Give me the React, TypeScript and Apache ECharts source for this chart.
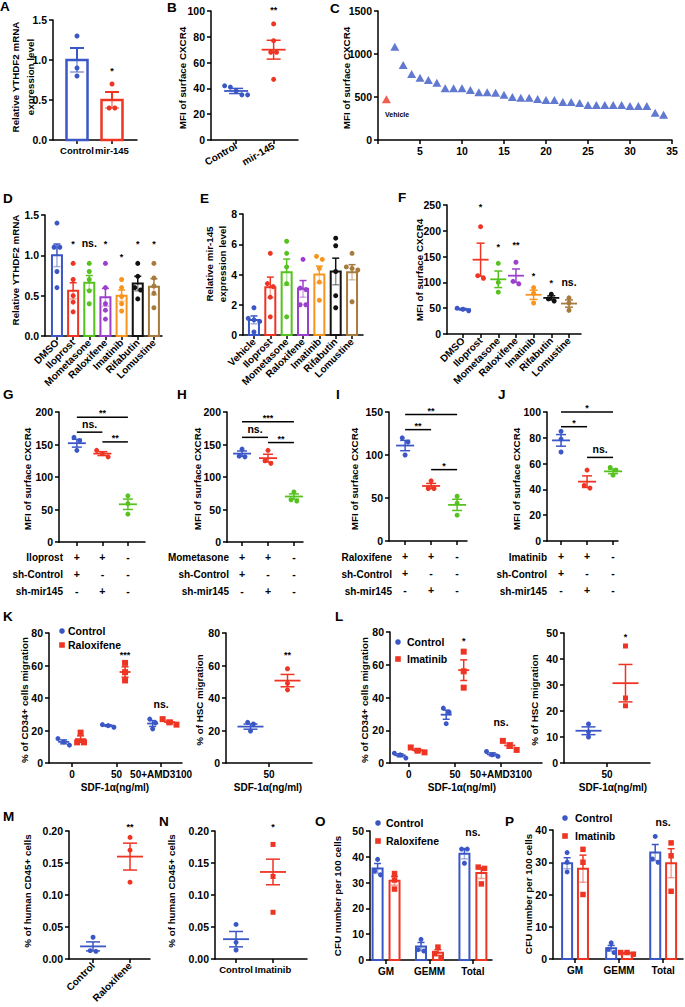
import React, { useEffect, useRef } from "react";
import * as echarts from "echarts";

const FONT = "'Liberation Sans', Arial, Helvetica, sans-serif";
const BLUE = "#3B57C6";
const RED = "#EE3524";
const GREEN = "#55C21E";
const PURPLE = "#9C40CC";
const ORANGE = "#F7951F";
const BLACK = "#111111";
const BROWN = "#A67B3D";
const DRUG_COLORS = [BLUE, RED, GREEN, PURPLE, ORANGE, BLACK, BROWN];
const TRIO = [BLUE, RED, GREEN];

// ---------- A ----------
const aCats = ["Control", "mir-145"];
const aPoints = [[1.3, 0.9, 0.8], [0.7, 0.4, 0.4]];
const aMean = [1.0, 0.5];
const aSem = [0.15, 0.1];
// ---------- B ----------
const bCats = ["Control", "mir-145"];
const bPoints = [[42, 41, 35, 35, 38], [90, 77, 68, 68, 47]];
const bMean = [38, 70];
const bSem = [2, 7.3];
// ---------- C ----------
const cValues = [473, 1085, 872, 767, 725, 698, 667, 601, 601, 601, 581, 554, 554, 550, 527, 500, 492, 492, 477, 465, 465, 442, 442, 430, 407, 407, 407, 407, 407, 395, 395, 395, 318, 295];
// ---------- D ----------
const dCats = ["DMSO", "Iloprost", "Mometasone", "Raloxifene", "Imatinib", "Rifabutin", "Lomustine"];
const dPoints = [[1.4, 1.1, 1.1, 0.8, 0.6], [0.9, 0.7, 0.5, 0.42, 0.3], [0.9, 0.8, 0.7, 0.56, 0.4], [0.9, 0.6, 0.4, 0.32, 0.21], [0.7, 0.6, 0.49, 0.4, 0.31], [0.9, 0.74, 0.6, 0.57, 0.46], [0.9, 0.72, 0.62, 0.53, 0.35]];
const dMean = [1.0, 0.56, 0.66, 0.48, 0.5, 0.65, 0.61];
const dSem = [0.14, 0.1, 0.09, 0.11, 0.07, 0.09, 0.1];
const dSigText = ["*", "ns.", "*", "*", "*", "*"];
const dSigY = [1.165, 1.14, 1.165, 1.0, 1.165, 1.165];
// ---------- E ----------
const eCats = ["Vehicle", "Iloprost", "Mometasone", "Raloxifene", "Imatinib", "Rifabutin", "Lomustine"];
const ePoints = [[1.8, 1.1, 1.0, 0.9, 0.2], [5.4, 3.4, 3.2, 2.5, 1.2], [6.2, 5.4, 4.5, 3.4, 1.2], [5.0, 3.1, 3.0, 2.0, 2.0], [5.2, 5.0, 4.4, 3.5, 2.3], [6.4, 5.9, 4.2, 2.6, 1.8], [5.4, 4.5, 4.4, 4.3, 2.2]];
const eMean = [1.0, 3.15, 4.15, 3.05, 4.0, 4.2, 4.15];
const eSem = [0.26, 0.68, 0.87, 0.55, 0.55, 0.88, 0.5];
// ---------- F ----------
const fCats = ["DMSO", "Iloprost", "Mometasone", "Raloxifene", "Imatinib", "Rifabutin", "Lomustine"];
const fPoints = [[45, 50, 48], [208, 113, 108], [137, 100, 81], [139, 102, 97], [90, 79, 60], [77, 68, 64], [70, 60, 46]];
const fMean = [48, 144, 106, 113, 76, 70, 59];
const fSem = [1.5, 32, 16, 13, 9, 4, 7];
const fSigText = ["*", "*", "**", "*", "*", "ns."];
const fSigY = [250, 172.5, 177, 116, 103, 98];
// ---------- G-J ----------
const rowSigns = [["+", "+", "-"], ["+", "-", "-"], ["-", "+", "-"]];
const brX1 = [0, 0, 1];
const brX2 = [2, 1, 2];
const gRows = ["Iloprost", "sh-Control", "sh-mir145"];
const gPoints = [[161, 156, 141], [141, 136, 131], [71, 59, 43]];
const gMean = [152, 136, 58];
const gSem = [6, 3, 8];
const gBrY = [192, 169, 154];
const gBrT = ["**", "ns.", "**"];
const hRows = ["Mometasone", "sh-Control", "sh-mir145"];
const hPoints = [[143, 132, 131], [141, 125, 121], [77, 65, 63]];
const hMean = [136, 129, 70];
const hSem = [4, 6, 4];
const hBrY = [185, 161, 153];
const hBrT = ["***", "ns.", "**"];
const iRows = ["Raloxifene", "sh-Control", "sh-mir145"];
const iPoints = [[120, 115, 100], [70, 61, 61], [52, 44, 30]];
const iMean = [111, 64, 42];
const iSem = [6, 3, 6.5];
const iBrY = [147, 129.5, 83];
const iBrT = ["**", "**", "*"];
const jRows = ["Imatinib", "sh-Control", "sh-mir145"];
const jPoints = [[85, 79, 69], [55, 43, 41], [57, 55, 51]];
const jMean = [78, 46, 54];
const jSem = [4.5, 4.5, 1.8];
const jBrY = [100, 88.6, 64.8];
const jBrT = ["*", "*", "ns."];
// ---------- K ----------
const sdfCats = ["0", "50", "50+AMD3100"];
const kCtrl = [[15, 11, 13], [23.6, 23, 22], [27, 24.7, 21]];
const kCtrlMean = [13, 23, 24.3];
const kCtrlSem = [1.2, 0.5, 1.8];
const kRalox = [[18.7, 12.7, 12.7], [61.6, 55.9, 50.8], [27, 25, 23.6]];
const kRaloxMean = [14.7, 56, 25.2];
const kRaloxSem = [2, 3.2, 1];
const k2Points = [[24, 25, 19.7], [58, 49, 45]];
const k2Mean = [22.4, 50.7];
const k2Sem = [1.6, 3.8];
// ---------- L ----------
const lCtrl = [[6, 5, 3], [33.5, 31, 24], [7, 5, 4]];
const lCtrlMean = [4.7, 29.5, 5.3];
const lCtrlSem = [0.9, 2.8, 0.9];
const lImat = [[9.5, 7.5, 6.5], [68, 56, 46], [13.5, 10.5, 8]];
const lImatMean = [7.8, 56.7, 10.7];
const lImatSem = [0.9, 6.3, 1.6];
const l2Points = [[15, 12, 10], [45, 25, 22]];
const l2Mean = [12.4, 30.7];
const l2Sem = [1.5, 7.2];
// ---------- M / N ----------
const mCats = ["Control", "Raloxifene"];
const mPoints = [[0.034, 0.012, 0.013], [0.19, 0.17, 0.12]];
const mMean = [0.0197, 0.16];
const mSem = [0.007, 0.021];
const nCats = ["Control", "Imatinib"];
const nPoints = [[0.054, 0.026, 0.014], [0.179, 0.129, 0.073]];
const nMean = [0.031, 0.136];
const nSem = [0.012, 0.02];
// ---------- O / P ----------
const cfuCats = ["GM", "GEMM", "Total"];
const oCtrl = [[39, 34.5, 33], [8, 4, 3.5], [43, 43, 37.5]];
const oCtrlMean = [35.5, 5.2, 41.2];
const oCtrlSem = [1.9, 1.6, 2];
const oRalox = [[33.5, 31, 27.5], [5, 2.5, 1], [36, 35.5, 29.5]];
const oRaloxMean = [30.7, 2.8, 33.7];
const oRaloxSem = [1.7, 1.2, 2.1];
const pCtrl = [[33, 30, 27], [5, 3, 2], [38, 31, 30]];
const pCtrlMean = [29.7, 3.3, 33];
const pCtrlSem = [1.7, 0.9, 2.5];
const pImat = [[34, 30, 20], [2, 2, 1.5], [36, 32, 21]];
const pImatMean = [28, 1.8, 29.7];
const pImatSem = [4.2, 0.2, 4.5];

const fmt0 = (v: number) => String(Math.round(v));
const fmt1 = (v: number) => v.toFixed(1);
const fmt2 = (v: number) => v.toFixed(2);
const catFmt = (cats: string[]) => (v: number) => cats[Math.round(v)] ?? "";
const idx = (n: number) => Array.from({ length: n }, (_, k) => k);

type Spec = {
  left: number; top: number; width: number; height: number;
  xMin: number; xMax: number; xTicks?: number[]; xInterval?: number;
  xFmt?: (v: number) => string; xRotate?: number; xMargin?: number; xLineHeight?: number; xFont?: number;
  yMin: number; yMax: number; yInterval: number; yFmt?: (v: number) => string;
};

function swarm(vals: number[], pxPerUnit: number, size: number): number[] {
  const order = vals.map((_, i) => i).sort((a, b) => vals[b] - vals[a]);
  const res = new Array(vals.length).fill(0);
  let cluster: number[] = [];
  const flush = () => {
    const n = cluster.length;
    cluster.forEach((id, k) => { res[id] = (k - (n - 1) / 2) * size * 1.15; });
    cluster = [];
  };
  for (const id of order) {
    if (cluster.length && (vals[cluster[cluster.length - 1]] - vals[id]) * pxPerUnit >= size * 0.9) flush();
    cluster.push(id);
  }
  flush();
  return res;
}

function addPanel(o: any, s: Spec): number {
  const i = o.grid.length;
  o.grid.push({ left: s.left, top: s.top, width: s.width, height: s.height });
  const line = { show: true, onZero: false, lineStyle: { color: "#000", width: 1.5 } };
  const tick = { show: true, inside: false, length: 4, lineStyle: { color: "#000", width: 1.5 } };
  const lbl = { color: "#000", fontFamily: FONT, fontWeight: "bold", fontSize: 10.5, hideOverlap: false };
  o.xAxis.push({
    type: "value", gridIndex: i, min: s.xMin, max: s.xMax, interval: s.xInterval,
    splitLine: { show: false }, axisLine: line,
    axisTick: s.xTicks ? { ...tick, customValues: s.xTicks } : tick,
    axisLabel: {
      ...lbl, fontSize: s.xFont ?? 10, rotate: s.xRotate ?? 0, margin: s.xMargin ?? 5, lineHeight: s.xLineHeight,
      customValues: s.xTicks, formatter: s.xFmt, showMinLabel: true, showMaxLabel: true,
    },
  });
  o.yAxis.push({
    type: "value", gridIndex: i, min: s.yMin, max: s.yMax, interval: s.yInterval,
    splitLine: { show: false }, axisLine: line, axisTick: tick,
    axisLabel: { ...lbl, margin: 6, formatter: s.yFmt ?? fmt0 },
  });
  return i;
}

function addBars(o: any, i: number, xs: number[], means: number[], colors: string[], w: number, lw: number) {
  o.series.push({
    type: "custom", xAxisIndex: i, yAxisIndex: i, z: 2, silent: true, clip: false,
    data: xs.map((x, k) => [x, means[k]]),
    renderItem: (p: any, api: any) => {
      const top = api.coord([api.value(0), api.value(1)]);
      const base = api.coord([api.value(0), 0]);
      return {
        type: "rect",
        shape: { x: top[0] - w / 2, y: top[1], width: w, height: base[1] - top[1] },
        style: { fill: "#fff", stroke: colors[p.dataIndex], lineWidth: lw },
      };
    },
  });
}

function addErr(o: any, i: number, xs: number[], means: number[], sems: number[], colors: string[], meanW: number, capW: number, lw: number, lowerAlpha = 1) {
  o.series.push({
    type: "custom", xAxisIndex: i, yAxisIndex: i, z: 5, silent: true, clip: false,
    data: xs.map((x, k) => [x, means[k], sems[k]]),
    renderItem: (p: any, api: any) => {
      const x = api.value(0), m = api.value(1), s = api.value(2);
      const c = api.coord([x, m]), t = api.coord([x, m + s]), b = api.coord([x, m - s]);
      const col = colors[p.dataIndex];
      const st = { stroke: col, lineWidth: lw };
      const sl = { stroke: col, lineWidth: lw, opacity: lowerAlpha };
      const ch: any[] = [
        { type: "line", shape: { x1: c[0], y1: t[1], x2: c[0], y2: c[1] }, style: st },
        { type: "line", shape: { x1: c[0] - capW / 2, y1: t[1], x2: c[0] + capW / 2, y2: t[1] }, style: st },
        { type: "line", shape: { x1: c[0], y1: c[1], x2: c[0], y2: b[1] }, style: sl },
        { type: "line", shape: { x1: c[0] - capW / 2, y1: b[1], x2: c[0] + capW / 2, y2: b[1] }, style: sl },
      ];
      if (meanW > 0) ch.push({ type: "line", shape: { x1: c[0] - meanW / 2, y1: c[1], x2: c[0] + meanW / 2, y2: c[1] }, style: { stroke: col, lineWidth: lw + 0.3 } });
      return { type: "group", children: ch };
    },
  });
}

function addDots(o: any, i: number, s: Spec, xs: number[], pts: number[][], colors: string[], symbol = "circle", size = 5) {
  const pxY = s.height / (s.yMax - s.yMin);
  const uX = (s.xMax - s.xMin) / s.width;
  xs.forEach((x, g) => {
    const offs = swarm(pts[g], pxY, size);
    o.series.push({
      type: "scatter", xAxisIndex: i, yAxisIndex: i, z: 4, silent: true, symbol, symbolSize: size,
      itemStyle: { color: colors[g], opacity: 1 },
      data: pts[g].map((v, k) => [x + offs[k] * uX, v]),
    });
  });
}

function sigStyle(t: string) {
  const star = t[0] === "*";
  return {
    text: t, fill: "#000", font: `bold ${star ? 9 : 10.5}px ${FONT}`,
    align: "center", textAlign: "center", verticalAlign: "middle", textVerticalAlign: "middle",
  };
}

function addSig(o: any, i: number, xs: number[], ys: number[], texts: string[]) {
  o.series.push({
    type: "custom", xAxisIndex: i, yAxisIndex: i, z: 6, silent: true, clip: false,
    data: xs.map((x, k) => [x, ys[k]]),
    renderItem: (p: any, api: any) => {
      const c = api.coord([api.value(0), api.value(1)]);
      const t = texts[p.dataIndex];
      return { type: "text", x: c[0], y: c[1] + (t[0] === "*" ? 2 : -1), style: sigStyle(t) };
    },
  });
}

function addBrackets(o: any, i: number, ys: number[], texts: string[]) {
  o.series.push({
    type: "custom", xAxisIndex: i, yAxisIndex: i, z: 6, silent: true, clip: false,
    encode: { x: [0, 1], y: 2 },
    data: brX1.map((x, k) => [x, brX2[k], ys[k]]),
    renderItem: (p: any, api: any) => {
      const a = api.coord([api.value(0), api.value(2)]);
      const b = api.coord([api.value(1), api.value(2)]);
      const t = texts[p.dataIndex];
      return {
        type: "group",
        children: [
          { type: "line", shape: { x1: a[0], y1: a[1], x2: b[0], y2: b[1] }, style: { stroke: "#000", lineWidth: 1.5 } },
          { type: "text", x: (a[0] + b[0]) / 2, y: a[1] + (t[0] === "*" ? -4 : -8), style: sigStyle(t) },
        ],
      };
    },
  });
}

function gText(G: any[], x: number, y: number, text: string, size: number, opts: any = {}) {
  const align = opts.align ?? "left";
  const v = opts.vAlign ?? "middle";
  G.push({
    type: "text", x, y, rotation: opts.rot ?? 0, silent: true, z: 10,
    style: {
      text, fill: "#000", font: `bold ${size}px ${FONT}`,
      align, textAlign: align, verticalAlign: v, textVerticalAlign: v, lineHeight: opts.lh,
    },
  });
}
const yTitle = (G: any[], x: number, y: number, t: string, lh = 13) =>
  gText(G, x, y, t, 9.8, { align: "center", rot: Math.PI / 2, lh });
const letter = (G: any[], x: number, y: number, t: string) =>
  gText(G, x, y, t, 13.5, { vAlign: "top" });

function legend(G: any[], x: number, y1: number, y2: number, tx: number, names: string[]) {
  G.push({ type: "circle", silent: true, shape: { cx: x, cy: y1, r: 2.8 }, style: { fill: BLUE } });
  G.push({ type: "rect", silent: true, shape: { x: x - 2.8, y: y2 - 2.8, width: 5.6, height: 5.6 }, style: { fill: RED } });
  gText(G, tx, y1, names[0], 10.5);
  gText(G, tx, y2, names[1], 10.5);
}

function buildOption() {
  const o: any = { animation: false, backgroundColor: "#fff", grid: [], xAxis: [], yAxis: [], series: [] };
  const G: any[] = [];

  // A
  const sA: Spec = { left: 53, top: 20, width: 84, height: 120, xMin: -0.686, xMax: 1.714, xTicks: [0, 1], xFmt: catFmt(aCats), xFont: 9.5, yMin: 0, yMax: 1.5, yInterval: 0.5, yFmt: fmt1 };
  const A = addPanel(o, sA);
  addBars(o, A, [0, 1], aMean, [BLUE, RED], 21, 2.5);
  addDots(o, A, sA, [0, 1], aPoints, [BLUE, RED]);
  addErr(o, A, [0, 1], aMean, aSem, [BLUE, RED], 0, 14, 2, 0.45);
  addSig(o, A, [1], [0.89], ["*"]);
  letter(G, 0, -1, "A");
  yTitle(G, 23, 77, "Relative YTHDF2 mRNA\nexpression level", 15);

  // B
  const sB: Spec = { left: 211, top: 11, width: 87, height: 129, xMin: -0.67, xMax: 1.65, xTicks: [0, 1], xFmt: catFmt(bCats), xRotate: 30, yMin: 0, yMax: 100, yInterval: 20 };
  const B = addPanel(o, sB);
  addDots(o, B, sB, [0, 1], bPoints, [BLUE, RED]);
  addErr(o, B, [0, 1], bMean, bSem, [BLUE, RED], 24, 14, 1.5);
  addSig(o, B, [1], [102], ["**"]);
  letter(G, 167, 0, "B");
  yTitle(G, 182, 78, "MFI of surface CXCR4");

  // C
  const sC: Spec = { left: 378, top: 11, width: 294, height: 129, xMin: 0, xMax: 35, xInterval: 5, xFmt: (v) => (v === 0 ? "" : String(v)), xFont: 10.5, yMin: 0, yMax: 1500, yInterval: 500 };
  const C = addPanel(o, sC);
  const cPts = cValues.map((v, k) => [k + 1, v]);
  o.series.push({ type: "scatter", xAxisIndex: C, yAxisIndex: C, z: 4, silent: true, symbol: "triangle", symbolSize: [9, 8], itemStyle: { color: RED }, data: cPts.slice(0, 1) });
  o.series.push({ type: "scatter", xAxisIndex: C, yAxisIndex: C, z: 4, silent: true, symbol: "triangle", symbolSize: [9, 8], itemStyle: { color: BLUE }, data: cPts.slice(1) });
  gText(G, 385, 114, "Vehicle", 7);
  letter(G, 330, 1, "C");
  yTitle(G, 346, 78, "MFI of surface CXCR4");

  // D
  const sD: Spec = { left: 45, top: 215, width: 117, height: 121, xMin: -0.74, xMax: 6.5, xTicks: idx(7), xFmt: catFmt(dCats), xRotate: 45, yMin: 0, yMax: 1.5, yInterval: 0.5, yFmt: fmt1 };
  const D = addPanel(o, sD);
  addBars(o, D, idx(7), dMean, DRUG_COLORS, 10, 2);
  addDots(o, D, sD, idx(7), dPoints, DRUG_COLORS, "circle", 5);
  addErr(o, D, idx(7), dMean, dSem, DRUG_COLORS, 0, 7, 1.5, 0.45);
  addSig(o, D, [1, 2, 3, 4, 5, 6], dSigY, dSigText);
  letter(G, 3, 191.5, "D");
  yTitle(G, 15, 270, "Relative YTHDF2 mRNA");

  // E
  const sE: Spec = { left: 243, top: 214, width: 120, height: 121, xMin: -0.67, xMax: 6.67, xTicks: idx(7), xFmt: catFmt(eCats), xRotate: 45, yMin: 0, yMax: 8, yInterval: 2 };
  const E = addPanel(o, sE);
  addBars(o, E, idx(7), eMean, DRUG_COLORS, 10, 2);
  addDots(o, E, sE, idx(7), ePoints, DRUG_COLORS, "circle", 5);
  addErr(o, E, idx(7), eMean, eSem, DRUG_COLORS, 0, 7, 1.5, 0.45);
  letter(G, 200, 191.5, "E");
  yTitle(G, 216, 264, "Relative mir-145\nexpression level", 13);

  // F
  const sF: Spec = { left: 447, top: 205, width: 134, height: 129, xMin: -0.9, xMax: 6.68, xTicks: idx(7), xFmt: catFmt(fCats), xRotate: 45, yMin: 0, yMax: 250, yInterval: 50 };
  const F = addPanel(o, sF);
  addDots(o, F, sF, idx(7), fPoints, DRUG_COLORS, "circle", 5);
  addErr(o, F, idx(7), fMean, fSem, DRUG_COLORS, 16, 8, 1.5);
  addSig(o, F, [1, 2, 3, 4, 5, 6], fSigY, fSigText);
  letter(G, 398, 190.5, "F");
  yTitle(G, 419, 270, "MFI of surface CXCR4");

  // G-J
  const signFmt = (v: number) => rowSigns.map((r) => r[Math.round(v)]).join("\n");
  const trio = (left: number, width: number, xMin: number, xMax: number, yMax: number, yInt: number): Spec => ({
    left, top: 412, width, height: 130, xMin, xMax, xTicks: [0, 1, 2], xFmt: signFmt, xMargin: 6, xLineHeight: 17, xFont: 10.5,
    yMin: 0, yMax, yInterval: yInt,
  });
  const rowLabels = (right: number, rows: string[]) => rows.forEach((r, k) => gText(G, right, 557 + k * 17, r, 10, { align: "right" }));

  const sG = trio(59, 86, -0.7, 2.67, 200, 50);
  const Gi = addPanel(o, sG);
  addDots(o, Gi, sG, [0, 1, 2], gPoints, TRIO);
  addErr(o, Gi, [0, 1, 2], gMean, gSem, TRIO, 18, 10, 1.5);
  addBrackets(o, Gi, gBrY, gBrT);
  rowLabels(63, gRows);
  letter(G, 3, 387.5, "G");
  yTitle(G, 27, 479, "MFI of surface CXCR4");

  const sH = trio(227, 76, -0.58, 2.35, 200, 50);
  const H = addPanel(o, sH);
  addDots(o, H, sH, [0, 1, 2], hPoints, TRIO);
  addErr(o, H, [0, 1, 2], hMean, hSem, TRIO, 18, 10, 1.5);
  addBrackets(o, H, hBrY, hBrT);
  rowLabels(229, hRows);
  letter(G, 177, 387.5, "H");
  yTitle(G, 197, 479, "MFI of surface CXCR4");

  const sI = { ...trio(389, 78, -0.62, 2.38, 150, 50), height: 129 };
  const I = addPanel(o, sI);
  addDots(o, I, sI, [0, 1, 2], iPoints, TRIO);
  addErr(o, I, [0, 1, 2], iMean, iSem, TRIO, 18, 10, 1.5);
  addBrackets(o, I, iBrY, iBrT);
  rowLabels(392, iRows);
  letter(G, 336, 387.5, "I");
  yTitle(G, 354, 479, "MFI of surface CXCR4");

  const sJ = { ...trio(547, 71, -0.54, 2.19, 100, 20), height: 129 };
  const J = addPanel(o, sJ);
  addDots(o, J, sJ, [0, 1, 2], jPoints, TRIO);
  addErr(o, J, [0, 1, 2], jMean, jSem, TRIO, 18, 10, 1.5);
  addBrackets(o, J, jBrY, jBrT);
  rowLabels(547, jRows);
  letter(G, 498, 387.5, "J");
  yTitle(G, 516, 479, "MFI of surface CXCR4");

  // K
  const sK1: Spec = { left: 49, top: 633, width: 133, height: 130, xMin: -0.52, xMax: 2.47, xTicks: [0, 1, 2], xFmt: catFmt(sdfCats), xMargin: 6, yMin: 0, yMax: 80, yInterval: 20 };
  const K1 = addPanel(o, sK1);
  const kOff = 0.19;
  const kxC = [0, 1, 2].map((g) => g - kOff);
  const kxR = [0, 1, 2].map((g) => g + kOff);
  addDots(o, K1, sK1, kxC, kCtrl, [BLUE, BLUE, BLUE], "circle", 5);
  addDots(o, K1, sK1, kxR, kRalox, [RED, RED, RED], "rect", 6);
  addErr(o, K1, kxC, kCtrlMean, kCtrlSem, [BLUE, BLUE, BLUE], 11, 7, 1.5);
  addErr(o, K1, kxR, kRaloxMean, kRaloxSem, [RED, RED, RED], 11, 7, 1.5);
  addSig(o, K1, [1 + kOff, 2], [67.7, 35.7], ["***", "ns."]);
  legend(G, 62, 631, 645, 68, ["Control", "Raloxifene"]);
  letter(G, 3, 609.5, "K");
  yTitle(G, 24, 700, "% of CD34+ cells migration");
  gText(G, 115, 787, "SDF-1\u03b1(ng/ml)", 10, { align: "center" });

  const sK2: Spec = { left: 226, top: 633, width: 86, height: 130, xMin: -1, xMax: 1, xTicks: [0], xFmt: () => "50", xMargin: 6, yMin: 0, yMax: 80, yInterval: 20 };
  const K2 = addPanel(o, sK2);
  addDots(o, K2, sK2, [-0.43, 0.43], k2Points, [BLUE, RED]);
  addErr(o, K2, [-0.43, 0.43], k2Mean, k2Sem, [BLUE, RED], 26, 14, 1.5);
  addSig(o, K2, [0.43], [67.7], ["**"]);
  yTitle(G, 199, 700, "% of HSC migration");
  gText(G, 268, 787, "SDF-1\u03b1(ng/ml)", 10, { align: "center" });

  // L
  const sL1: Spec = { left: 390, top: 632, width: 152, height: 131, xMin: -0.41, xMax: 2.89, xTicks: [0, 1, 2], xFmt: catFmt(sdfCats), xMargin: 6, yMin: 0, yMax: 80, yInterval: 20 };
  const L1 = addPanel(o, sL1);
  const lOff = 0.19;
  const lxC = [0, 1, 2].map((g) => g - lOff);
  const lxR = [0, 1, 2].map((g) => g + lOff);
  addDots(o, L1, sL1, lxC, lCtrl, [BLUE, BLUE, BLUE], "circle", 5);
  addDots(o, L1, sL1, lxR, lImat, [RED, RED, RED], "rect", 6);
  addErr(o, L1, lxC, lCtrlMean, lCtrlSem, [BLUE, BLUE, BLUE], 11, 7, 1.5);
  addErr(o, L1, lxR, lImatMean, lImatSem, [RED, RED, RED], 11, 7, 1.5);
  addSig(o, L1, [1 + lOff, 2], [75.7, 24.6], ["*", "ns."]);
  legend(G, 398, 642, 659, 407, ["Control", "Imatinib"]);
  letter(G, 335, 609.5, "L");
  yTitle(G, 364, 700, "% of CD34+ cells migration");
  gText(G, 462, 787, "SDF-1\u03b1(ng/ml)", 10, { align: "center" });

  const sL2: Spec = { left: 564, top: 633, width: 86, height: 130, xMin: -1, xMax: 1, xTicks: [0], xFmt: () => "50", xMargin: 6, yMin: 0, yMax: 50, yInterval: 10 };
  const L2 = addPanel(o, sL2);
  addDots(o, L2, sL2, [-0.43], [l2Points[0]], [BLUE], "circle", 5);
  addDots(o, L2, sL2, [0.43], [l2Points[1]], [RED], "rect", 5);
  addErr(o, L2, [-0.43, 0.43], l2Mean, l2Sem, [BLUE, RED], 26, 14, 1.5);
  addSig(o, L2, [0.43], [49.2], ["*"]);
  yTitle(G, 534, 700, "% of HSC migration");
  gText(G, 613, 787, "SDF-1\u03b1(ng/ml)", 10, { align: "center" });

  // M
  const sM: Spec = { left: 69, top: 831, width: 81, height: 128, xMin: -0.65, xMax: 1.54, xTicks: [0, 1], xFmt: catFmt(mCats), xRotate: 45, yMin: 0, yMax: 0.2, yInterval: 0.05, yFmt: fmt2 };
  const M = addPanel(o, sM);
  addDots(o, M, sM, [0, 1], mPoints, [BLUE, RED]);
  addErr(o, M, [0, 1], mMean, mSem, [BLUE, RED], 26, 14, 1.5);
  addSig(o, M, [1], [0.209], ["**"]);
  letter(G, 3, 809.5, "M");
  yTitle(G, 27, 891, "% of human CD45+ cells");

  // N
  const sN: Spec = { left: 215, top: 831, width: 92, height: 128, xMin: -0.57, xMax: 1.92, xTicks: [0, 1], xFmt: catFmt(nCats), xMargin: 5, xFont: 9.5, yMin: 0, yMax: 0.2, yInterval: 0.05, yFmt: fmt2 };
  const N = addPanel(o, sN);
  addDots(o, N, sN, [0], [nPoints[0]], [BLUE], "circle", 5);
  addDots(o, N, sN, [1], [nPoints[1]], [RED], "rect", 5);
  addErr(o, N, [0, 1], nMean, nSem, [BLUE, RED], 26, 14, 1.5);
  addSig(o, N, [1], [0.209], ["*"]);
  letter(G, 159, 814.5, "N");
  yTitle(G, 171, 891, "% of human CD45+ cells");

  // O
  const sO: Spec = { left: 370, top: 831, width: 122, height: 129, xMin: -0.37, xMax: 2.44, xTicks: [0, 1, 2], xFmt: catFmt(cfuCats), xMargin: 6, yMin: 0, yMax: 50, yInterval: 10 };
  const O = addPanel(o, sO);
  const oOff = 0.195;
  const oxC = [0, 1, 2].map((g) => g - oOff);
  const oxR = [0, 1, 2].map((g) => g + oOff);
  addBars(o, O, oxC, oCtrlMean, [BLUE, BLUE, BLUE], 10, 2);
  addBars(o, O, oxR, oRaloxMean, [RED, RED, RED], 10, 2);
  addDots(o, O, sO, oxC, oCtrl, [BLUE, BLUE, BLUE], "circle", 5);
  addDots(o, O, sO, oxR, oRalox, [RED, RED, RED], "rect", 5.5);
  addErr(o, O, oxC, oCtrlMean, oCtrlSem, [BLUE, BLUE, BLUE], 0, 7, 1.5, 0.45);
  addErr(o, O, oxR, oRaloxMean, oRaloxSem, [RED, RED, RED], 0, 7, 1.5, 0.45);
  addSig(o, O, [2], [49.2], ["ns."]);
  legend(G, 378, 823, 841, 386, ["Control", "Raloxifene"]);
  letter(G, 315, 814.5, "O");
  yTitle(G, 337, 896, "CFU number per 100 cells");

  // P
  const sP: Spec = { left: 553, top: 830, width: 130, height: 129, xMin: -0.5, xMax: 2.45, xTicks: [0, 1, 2], xFmt: catFmt(cfuCats), xMargin: 6, yMin: 0, yMax: 40, yInterval: 10 };
  const P = addPanel(o, sP);
  const pOff = 0.18;
  const pxC = [0, 1, 2].map((g) => g - pOff);
  const pxR = [0, 1, 2].map((g) => g + pOff);
  addBars(o, P, pxC, pCtrlMean, [BLUE, BLUE, BLUE], 10, 2);
  addBars(o, P, pxR, pImatMean, [RED, RED, RED], 10, 2);
  addDots(o, P, sP, pxC, pCtrl, [BLUE, BLUE, BLUE], "circle", 5);
  addDots(o, P, sP, pxR, pImat, [RED, RED, RED], "rect", 5.5);
  addErr(o, P, pxC, pCtrlMean, pCtrlSem, [BLUE, BLUE, BLUE], 0, 7, 1.5, 0.45);
  addErr(o, P, pxR, pImatMean, pImatSem, [RED, RED, RED], 0, 7, 1.5, 0.45);
  addSig(o, P, [2], [42.2], ["ns."]);
  legend(G, 565, 818, 836, 575, ["Control", "Imatinib"]);
  letter(G, 505, 814.5, "P");
  yTitle(G, 528, 894, "CFU number per 100 cells");

  o.graphic = { elements: G };
  return o;
}

export default function App() {
  const ref = useRef<HTMLDivElement>(null);
  useEffect(() => {
    if (!ref.current) return;
    const chart = echarts.init(ref.current, undefined, { renderer: "svg" });
    chart.setOption(buildOption());
    return () => chart.dispose();
  }, []);
  return (
    <div
      ref={ref}
      style={{ position: "absolute", left: 0, top: 0, width: 685, height: 1007, background: "#fff" }}
    />
  );
}
